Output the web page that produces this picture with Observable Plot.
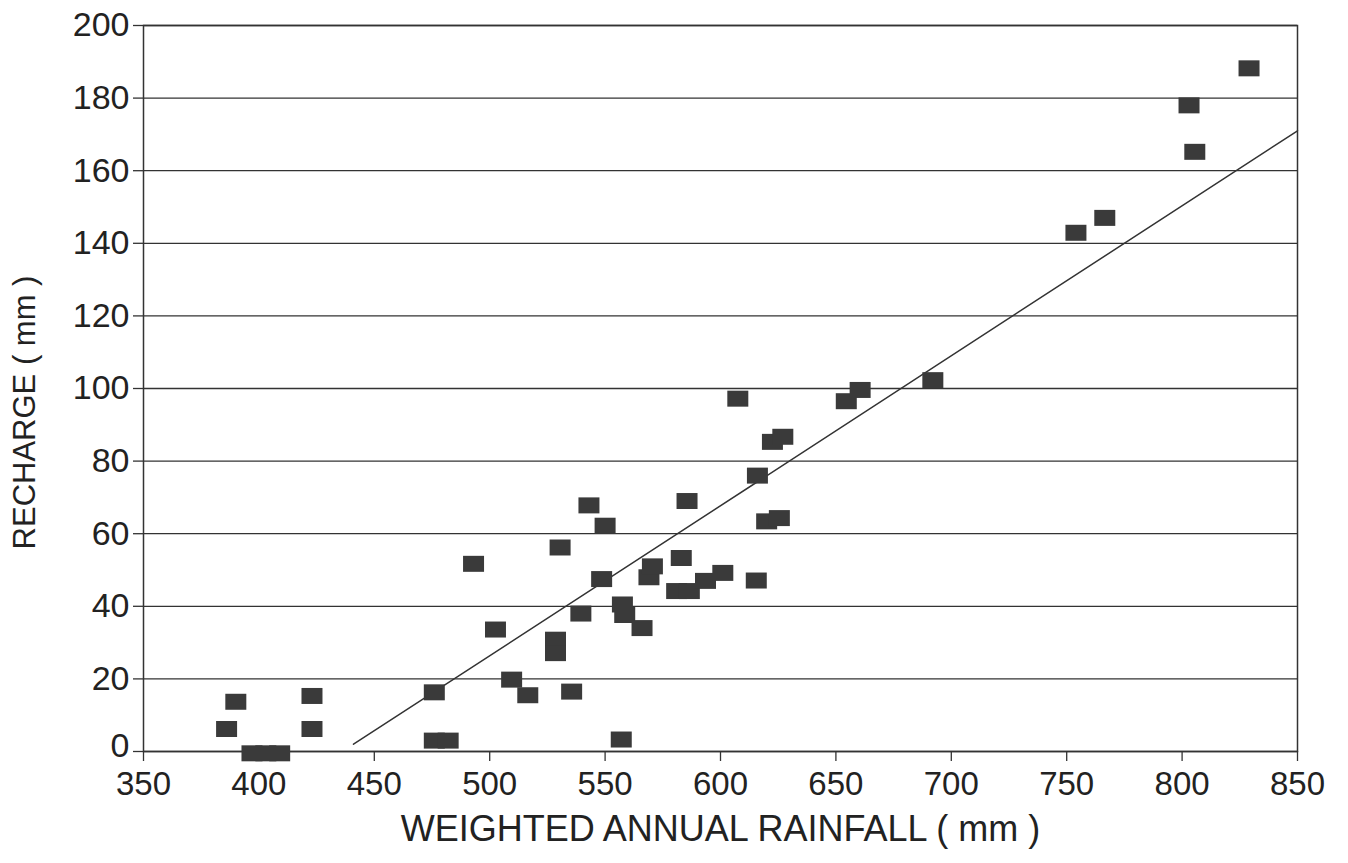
<!DOCTYPE html>
<html>
<head>
<meta charset="utf-8">
<script src="https://cdn.jsdelivr.net/npm/d3@7"></script>
<script src="https://cdn.jsdelivr.net/npm/@observablehq/plot@0.6"></script>
<style>
  html, body { margin: 0; padding: 0; background: #fff; }
  #chart svg { display: block; }
</style>
</head>
<body>
<div id="chart"></div>
<script>
// Weighted annual rainfall (mm) and recharge (mm)
const rainfall = [386, 390, 397, 403, 409, 423, 423, 476, 476, 482,
  493, 502.5, 509.5, 516.5, 528.5, 528.5, 530.5, 535.5, 539.5, 543,
  548.5, 550, 557, 557.5, 558.5, 566, 569, 570.5, 583, 581,
  586.5, 585.5, 593.5, 601, 607.5, 615.5, 616, 620, 625.5, 622.5,
  627, 654.5, 660.5, 692, 754, 766.5, 803, 805.5, 829];
const recharge = [6.2, 13.7, -0.5, -0.5, -0.5, 15.3, 6.2, 16.3, 3, 3,
  51.7, 33.6, 19.8, 15.5, 30.8, 27.1, 56.2, 16.5, 38, 67.8,
  47.5, 62.2, 3.3, 40.5, 37.6, 34, 48, 51, 53.3, 44.2,
  44.2, 69, 47, 49.2, 97.2, 47.1, 76, 63.4, 64.3, 85.3,
  86.7, 96.5, 99.6, 102.3, 142.9, 147, 178, 165.2, 188.2];

// Fitted line end points as drawn
const fitRain = [441, 850];
const fitRecharge = [2, 171];

const xTicks = [350, 400, 450, 500, 550, 600, 650, 700, 750, 800, 850];
const yTicks = [0, 20, 40, 60, 80, 100, 120, 140, 160, 180, 200];

const xTitle = "WEIGHTED ANNUAL RAINFALL ( mm )";
const yTitle = "RECHARGE ( mm )";

const points = rainfall.map((r, i) => ({rain: r, recharge: recharge[i]}));
const fit = fitRain.map((r, i) => ({rain: r, recharge: fitRecharge[i]}));

const ink = "#333";
const boxSymbol = {
  draw(context) {
    context.rect(-10.5, -8, 21, 16);
  }
};

const chart = Plot.plot({
  width: 1348,
  height: 863,
  marginLeft: 143,
  marginRight: 51,
  marginTop: 25,
  marginBottom: 112,
  style: {fontFamily: "'Liberation Sans', Arial, Helvetica, sans-serif", color: "#222", background: "#fff"},
  x: {domain: [350, 850]},
  y: {domain: [0, 200]},
  marks: [
    Plot.gridY(yTicks, {stroke: ink, strokeOpacity: 1, strokeWidth: 1.3}),
    Plot.frame({stroke: ink, strokeWidth: 1.5}),
    Plot.axisY({ticks: yTicks, tickSize: 10, tickPadding: 4, fontSize: 34, label: null, stroke: ink, strokeWidth: 1.3,
      tickFormat: d => d === 0 ? "" : String(d)}),
    Plot.axisY({ticks: [yTicks[0]], tickSize: 0, tickPadding: 14, fontSize: 34, label: null, dy: -5}),
    Plot.axisX({ticks: xTicks, tickSize: 10, tickPadding: 10, fontSize: 33, label: null, stroke: ink, strokeWidth: 1.3}),
    Plot.line(fit, {x: "rain", y: "recharge", stroke: ink, strokeWidth: 1.5}),
    Plot.dot(points, {x: "rain", y: "recharge", symbol: boxSymbol, r: 5, fill: "#3a3a3a", stroke: null}),
    Plot.text([xTitle], {frameAnchor: "bottom", lineAnchor: "bottom", dy: 89, fontSize: 36, fill: "#222", text: d => d}),
    Plot.text([yTitle], {frameAnchor: "left", textAnchor: "middle", dx: -118, dy: 24, rotate: -90, fontSize: 31, fill: "#222", text: d => d})
  ]
});
document.getElementById("chart").appendChild(chart);
</script>
</body>
</html>
